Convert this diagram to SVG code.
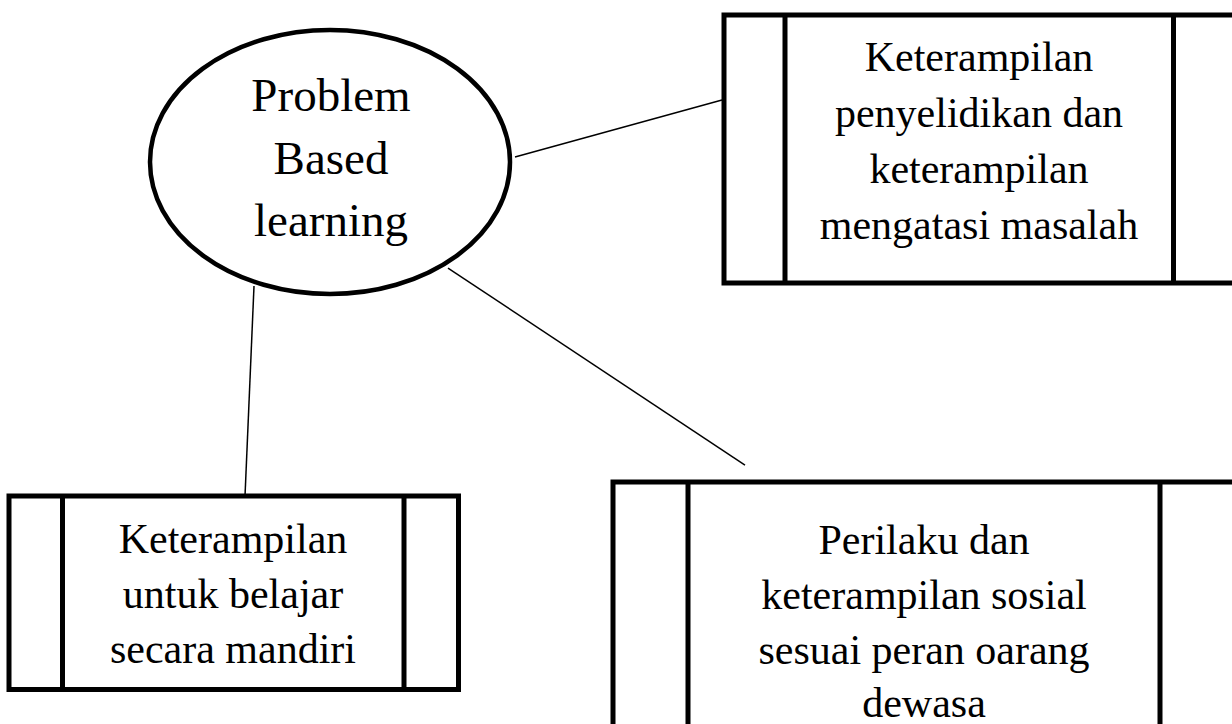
<svg xmlns="http://www.w3.org/2000/svg" width="1232" height="724" viewBox="0 0 1232 724">
<style>
.box{fill:#fff;stroke:#000;stroke-width:5}
.bar{stroke:#000;stroke-width:5}
.conn{stroke:#000;stroke-width:1.5;fill:none}
text{font-family:"Liberation Serif","Times New Roman",serif;fill:#000;text-anchor:middle}
.t{font-size:42px}
.e{font-size:47px}
</style>
<rect width="1232" height="724" fill="#fff"/>
<g id="connectors">
<line class="conn" x1="515" y1="157" x2="722" y2="100"/>
<line class="conn" x1="254" y1="286" x2="245" y2="496"/>
<line class="conn" x1="448" y1="268" x2="745" y2="465"/>
</g>
<g id="node-pbl">
<ellipse cx="330" cy="162" rx="180" ry="132" fill="#fff" stroke="#000" stroke-width="4.5"/>
<text class="e" x="331" y="111">Problem</text>
<text class="e" x="331" y="174">Based</text>
<text class="e" x="331" y="236">learning</text>
</g>
<g id="node-penyelidikan">
<rect class="box" x="724" y="15" width="540" height="268"/>
<line class="bar" x1="785" y1="15" x2="785" y2="283"/>
<line class="bar" x1="1173.5" y1="15" x2="1173.5" y2="283"/>
<text class="t" x="979" y="71">Keterampilan</text>
<text class="t" x="979" y="127">penyelidikan dan</text>
<text class="t" x="979" y="183">keterampilan</text>
<text class="t" x="979" y="239">mengatasi masalah</text>
</g>
<g id="node-mandiri">
<rect class="box" x="9" y="496" width="449.5" height="193.5"/>
<line class="bar" x1="62.5" y1="496" x2="62.5" y2="689.5"/>
<line class="bar" x1="404" y1="496" x2="404" y2="689.5"/>
<text class="t" x="233" y="553">Keterampilan</text>
<text class="t" x="233" y="608">untuk belajar</text>
<text class="t" x="233" y="663">secara mandiri</text>
</g>
<g id="node-sosial">
<rect class="box" x="613" y="482" width="660" height="300"/>
<line class="bar" x1="688" y1="482" x2="688" y2="782"/>
<line class="bar" x1="1160" y1="482" x2="1160" y2="782"/>
<text class="t" x="924" y="554">Perilaku dan</text>
<text class="t" x="924" y="609">keterampilan sosial</text>
<text class="t" x="924" y="664">sesuai peran oarang</text>
<text class="t" x="924" y="717">dewasa</text>
</g>
</svg>
